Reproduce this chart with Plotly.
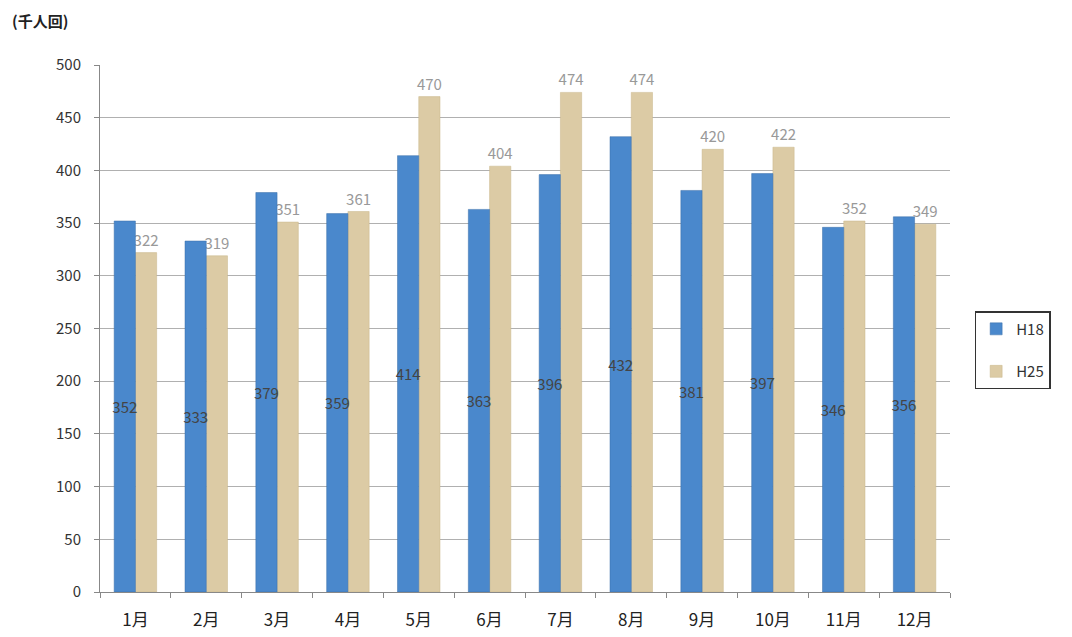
import plotly.graph_objects as go

months = ["1月", "2月", "3月", "4月", "5月", "6月", "7月", "8月", "9月", "10月", "11月", "12月"]
h18 = [352, 333, 379, 359, 414, 363, 396, 432, 381, 397, 346, 356]
h25 = [322, 319, 351, 361, 470, 404, 474, 474, 420, 422, 352, 349]

font_fam = "Noto Sans CJK JP"

fig = go.Figure()
# H25 drawn first so that the H18 labels sit on top of the neighbouring bar
fig.add_trace(go.Bar(
    x=months, y=h25, name="H25", legendgroup="b", legendrank=2,
    offset=0.0, width=0.3,
    marker=dict(color="#dccba5", line=dict(color="#c9b68a", width=0.5)),
    text=h25, textposition="outside", constraintext="none", textangle=0,
    outsidetextfont=dict(color="#999999", size=15, family=font_fam),
    cliponaxis=False,
))
fig.add_trace(go.Bar(
    x=months, y=h18, name="H18", legendgroup="a", legendrank=1,
    offset=-0.3, width=0.3,
    marker=dict(color="#4a88cc", line=dict(color="#3a6fa8", width=0.5)),
    text=h18, textposition="inside", insidetextanchor="middle",
    constraintext="none", textangle=0,
    insidetextfont=dict(color="#444444", size=15, family=font_fam),
))

fig.update_layout(
    width=1072, height=637,
    paper_bgcolor="white", plot_bgcolor="white",
    margin=dict(l=92, r=130, t=57, b=53),
    barmode="overlay",
    font=dict(family=font_fam, size=14, color="#333333"),
    showlegend=True,
    legend=dict(x=1.029, y=0.459, xanchor="left", yanchor="middle",
                bordercolor="#333333", borderwidth=1.5,
                font=dict(size=15, color="#333333"),
                tracegroupgap=20, itemwidth=30),
    annotations=[dict(text="<b>(千人回)</b>", xref="paper", yref="paper",
                      x=-0.106, y=1.085, xanchor="left", yanchor="middle",
                      showarrow=False, font=dict(size=15, color="#222222"))],
)
fig.update_yaxes(range=[0, 500], dtick=50, showgrid=True, gridcolor="#b0b0b0",
                 gridwidth=1, showline=True, linecolor="#888888",
                 ticks="outside", ticklen=5, tickcolor="#888888",
                 ticklabelstandoff=10,
                 tickfont=dict(size=15, color="#333333"), zeroline=False)
fig.update_xaxes(showline=True, linecolor="#888888", ticks="outside",
                 ticklen=5, tickcolor="#888888", tickson="boundaries",
                 ticklabelstandoff=13,
                 tickfont=dict(size=17, color="#222222"))

fig.write_html("out.html")
